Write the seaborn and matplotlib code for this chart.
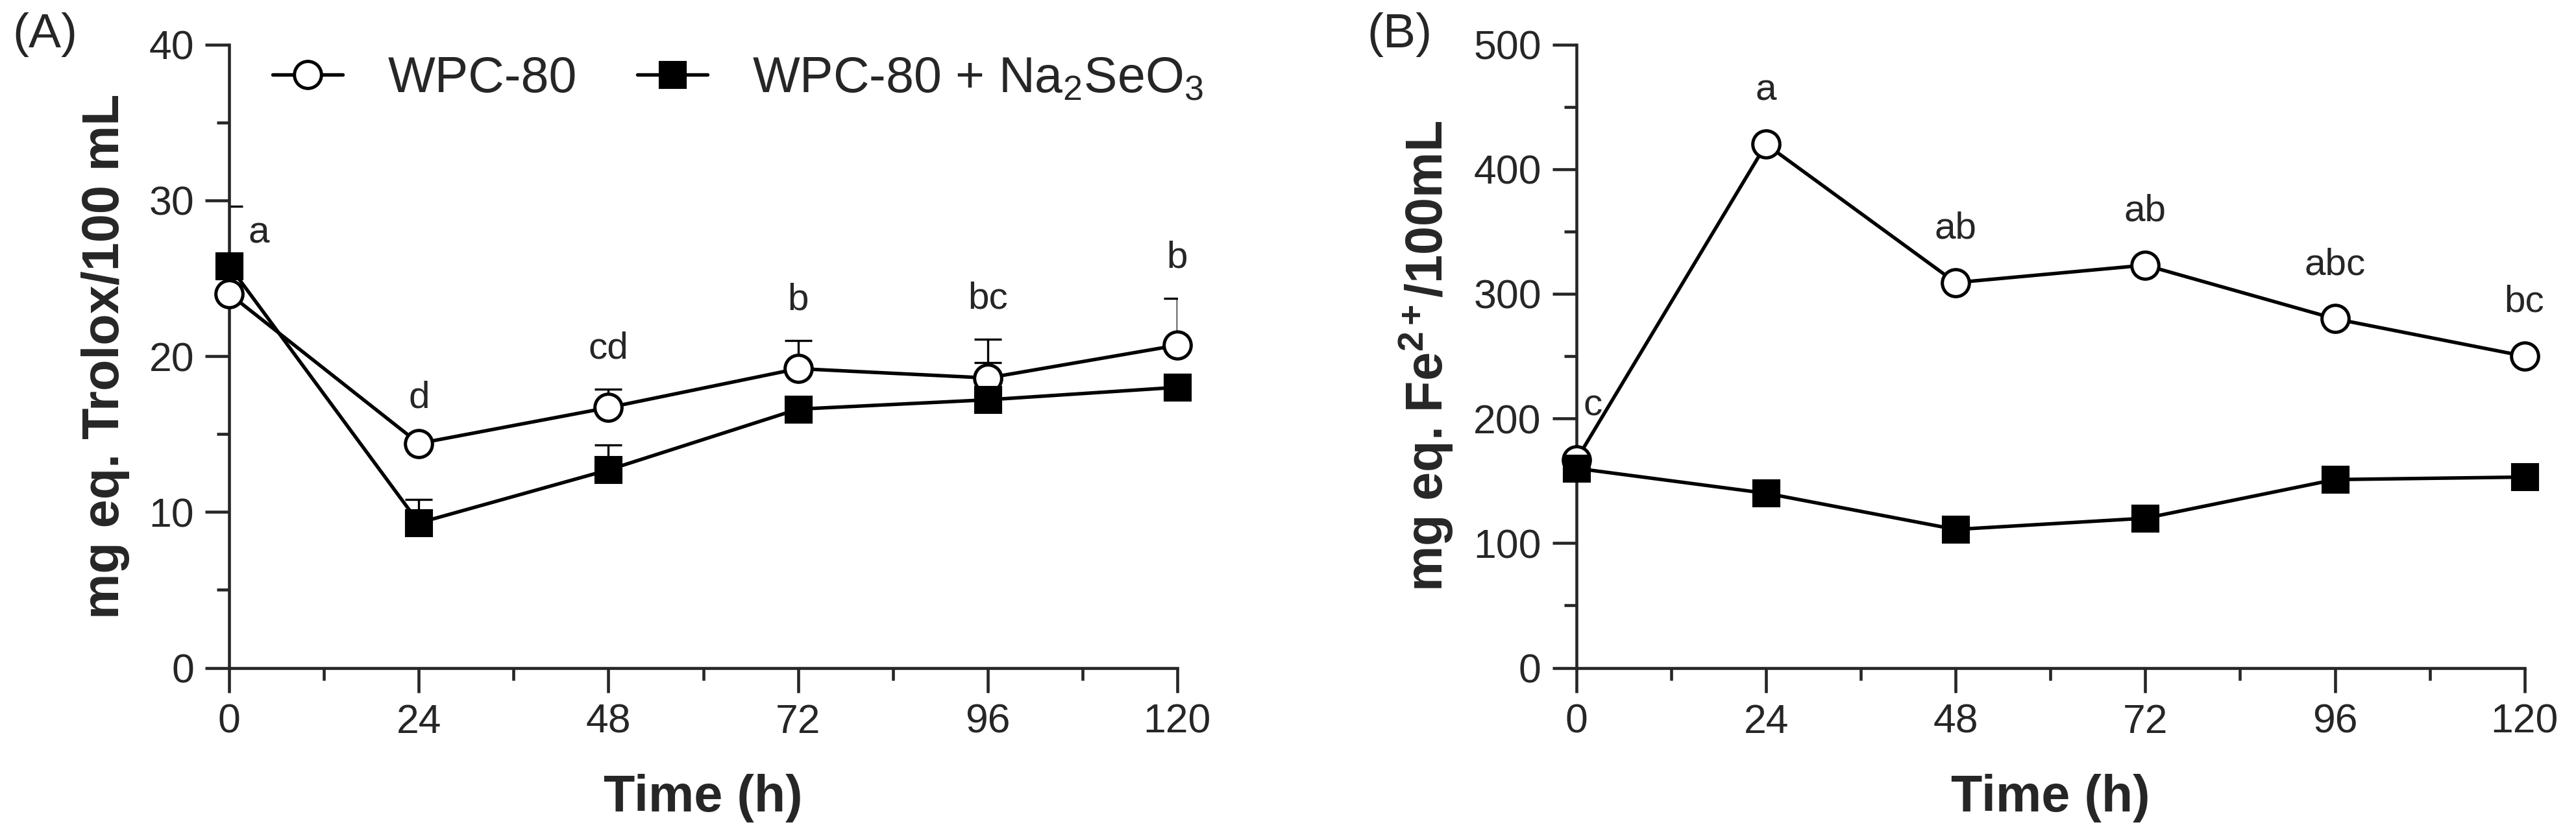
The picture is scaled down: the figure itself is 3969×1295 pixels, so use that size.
import numpy as np
import pandas as pd
import seaborn as sns
import matplotlib.pyplot as plt
from matplotlib.ticker import MultipleLocator

# Data
time_h = [0, 24, 48, 72, 96, 120]

# (A) ABTS - mg eq. Trolox/100 mL
trolox_wpc = [24.0, 14.4, 16.7, 19.2, 18.6, 20.7]
trolox_wpc_err = [0.5, 0.3, 1.2, 1.8, 2.5, 3.0]
trolox_se = [25.8, 9.3, 12.7, 16.6, 17.2, 18.0]
trolox_se_err = [3.8, 1.5, 1.6, 0.4, 2.4, 0.8]
trolox_letters = ["a", "d", "cd", "b", "bc", "b"]

# (B) FRAP - mg eq. Fe2+/100mL
fe_wpc = [167, 420, 309, 323, 280, 250]
fe_se = [160, 140, 111, 120, 151, 153]
fe_letters = ["c", "a", "ab", "ab", "abc", "bc"]

label_wpc = "WPC-80"
label_se = "WPC-80 + Na$_2$SeO$_3$"

sns.set_theme(style="ticks")
plt.rcParams["font.family"] = ["Liberation Sans", "DejaVu Sans"]
plt.rcParams["mathtext.fontset"] = "custom"
plt.rcParams["mathtext.rm"] = "Liberation Sans"
plt.rcParams["mathtext.it"] = "Liberation Sans:italic"
plt.rcParams["mathtext.bf"] = "Liberation Sans:bold"

fig = plt.figure(figsize=(13.23, 4.3167), dpi=300)
ax_a = fig.add_axes([0.089, 0.205, 0.368, 0.742])
ax_b = fig.add_axes([0.612, 0.205, 0.368, 0.742])


def draw_panel(ax, wpc, se, wpc_err, se_err, ymax, ymajor, ylabel, ylabel_x):
    df = pd.DataFrame({
        "time": time_h * 2,
        "value": wpc + se,
        "group": [label_wpc] * len(time_h) + [label_se] * len(time_h),
    })
    # upper-only error bars, drawn under the markers
    if wpc_err is not None:
        ax.errorbar(time_h, wpc, yerr=[np.zeros(len(wpc)), wpc_err], fmt="none",
                    ecolor="black", elinewidth=0.8, capsize=5, capthick=0.8, zorder=2)
    if se_err is not None:
        ax.errorbar(time_h, se, yerr=[np.zeros(len(se)), se_err], fmt="none",
                    ecolor="black", elinewidth=0.8, capsize=5, capthick=0.8, zorder=2)
    sns.lineplot(data=df[df.group == label_wpc], x="time", y="value", ax=ax,
                 color="black", linewidth=1.3, marker="o", markersize=10,
                 markerfacecolor="white", markeredgecolor="black", markeredgewidth=1.2,
                 label=label_wpc, zorder=3, clip_on=False)
    sns.lineplot(data=df[df.group == label_se], x="time", y="value", ax=ax,
                 color="black", linewidth=1.3, marker="s", markersize=9.5,
                 markerfacecolor="black", markeredgecolor="black",
                 label=label_se, zorder=3, clip_on=False)

    ax.set_xlim(0, 120)
    ax.set_ylim(0, ymax)
    ax.xaxis.set_major_locator(MultipleLocator(24))
    ax.xaxis.set_minor_locator(MultipleLocator(12))
    ax.yaxis.set_major_locator(MultipleLocator(ymajor))
    ax.yaxis.set_minor_locator(MultipleLocator(ymajor / 2))
    ax.tick_params(which="major", length=9, width=1.1, labelsize=15, direction="out", pad=4)
    ax.tick_params(which="minor", length=4.5, width=1.1, direction="out")
    for s in ["top", "right"]:
        ax.spines[s].set_visible(False)
    for s in ["left", "bottom"]:
        ax.spines[s].set_linewidth(1.1)
    ax.set_xlabel("Time (h)", fontsize=19, fontweight="bold", va="top")
    ax.set_ylabel(ylabel, fontsize=19, fontweight="bold")
    ax.xaxis.set_label_coords(0.5, -0.17)
    ax.yaxis.set_label_coords(ylabel_x, 0.5)


draw_panel(ax_a, trolox_wpc, trolox_se, trolox_wpc_err, trolox_se_err, 40, 10,
           "mg eq. Trolox/100 mL", -0.105)
draw_panel(ax_b, fe_wpc, fe_se, None, None, 500, 100,
           "mg eq. Fe$^{\\mathbf{2+}}$/100mL", -0.128)

# significance letters
tops_a = [max(w + we, s + se) for w, we, s, se in
          zip(trolox_wpc, trolox_wpc_err, trolox_se, trolox_se_err)]
for i, (t, let) in enumerate(zip(time_h, trolox_letters)):
    if i == 0:
        ax_a.annotate(let, (t, trolox_se[i]), xytext=(11, 12), textcoords="offset points",
                      ha="center", va="center", fontsize=14)
    else:
        ax_a.annotate(let, (t, tops_a[i]), xytext=(0, 15), textcoords="offset points",
                      ha="center", va="center", fontsize=14)

for i, (t, let) in enumerate(zip(time_h, fe_letters)):
    dx = 6 if i == 0 else 0
    ax_b.annotate(let, (t, fe_wpc[i]), xytext=(dx, 20), textcoords="offset points",
                  ha="center", va="center", fontsize=14)

# legend only on panel A
ax_b.get_legend().remove()
ax_a.legend(loc="center left", bbox_to_anchor=(0.046, 0.945), ncol=2, frameon=False,
            fontsize=18.5, handlelength=1.4, columnspacing=1.2, handletextpad=0.9,
            borderaxespad=0, borderpad=0)

fig.text(0.0048, 0.985, "(A)", fontsize=18, ha="left", va="top")
fig.text(0.5306, 0.985, "(B)", fontsize=18, ha="left", va="top")

fig.savefig("out.png", dpi=300)
